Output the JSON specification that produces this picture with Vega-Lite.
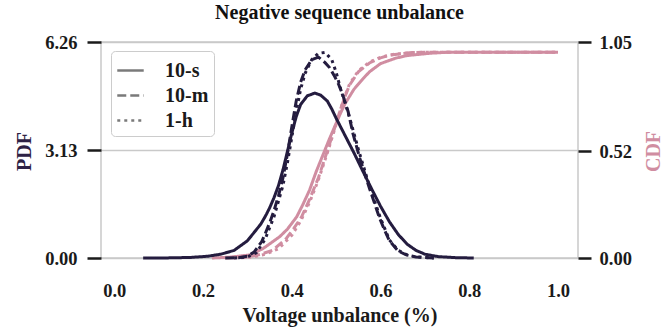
{
  "$schema": "https://vega.github.io/schema/vega-lite/v6.json",
  "width": 477,
  "height": 216,
  "autosize": {"type": "none"},
  "padding": {"left": 101, "top": 42, "right": 94, "bottom": 69},
  "config": {
    "font": "Liberation Serif",
    "view": {"stroke": "#c9c9c9", "strokeWidth": 1.5},
    "axis": {
      "labelFont": "Liberation Serif",
      "labelFontWeight": "bold",
      "labelFontSize": 18.5,
      "labelColor": "#1a1a1a",
      "titleFont": "Liberation Serif",
      "titleFontWeight": "bold",
      "titleFontSize": 20
    },
    "legend": {
      "orient": "none",
      "legendX": 10,
      "legendY": 9,
      "fillColor": "white",
      "strokeColor": "#cccccc",
      "cornerRadius": 4,
      "padding": 5,
      "symbolType": "stroke",
      "symbolStrokeWidth": 2.5,
      "symbolStrokeColor": "#7a7a7a",
      "symbolSize": 700,
      "labelFont": "Liberation Serif",
      "labelFontSize": 20,
      "labelFontWeight": "bold",
      "labelColor": "#1a1a1a",
      "labelOffset": 20,
      "rowPadding": 0
    }
  },
  "title": {
    "text": "Negative sequence unbalance",
    "font": "Liberation Serif",
    "fontSize": 20,
    "fontWeight": "bold",
    "color": "#111111",
    "anchor": "middle",
    "offset": 10
  },
  "datasets": {
    "pdf": [
      {"s": "10-s", "x": 0.065, "pdf": 0},
      {"s": "10-s", "x": 0.12, "pdf": 0.003},
      {"s": "10-s", "x": 0.17, "pdf": 0.015},
      {"s": "10-s", "x": 0.21, "pdf": 0.05},
      {"s": "10-s", "x": 0.24, "pdf": 0.11},
      {"s": "10-s", "x": 0.27, "pdf": 0.22},
      {"s": "10-s", "x": 0.30, "pdf": 0.5},
      {"s": "10-s", "x": 0.33, "pdf": 0.98},
      {"s": "10-s", "x": 0.34, "pdf": 1.2},
      {"s": "10-s", "x": 0.35, "pdf": 1.45},
      {"s": "10-s", "x": 0.36, "pdf": 1.75},
      {"s": "10-s", "x": 0.37, "pdf": 2.1},
      {"s": "10-s", "x": 0.38, "pdf": 2.55},
      {"s": "10-s", "x": 0.39, "pdf": 3.08},
      {"s": "10-s", "x": 0.40, "pdf": 3.62},
      {"s": "10-s", "x": 0.41, "pdf": 4.1},
      {"s": "10-s", "x": 0.42, "pdf": 4.45},
      {"s": "10-s", "x": 0.435, "pdf": 4.7},
      {"s": "10-s", "x": 0.452, "pdf": 4.78},
      {"s": "10-s", "x": 0.465, "pdf": 4.72},
      {"s": "10-s", "x": 0.48, "pdf": 4.55},
      {"s": "10-s", "x": 0.49, "pdf": 4.32},
      {"s": "10-s", "x": 0.50, "pdf": 4.05},
      {"s": "10-s", "x": 0.52, "pdf": 3.55},
      {"s": "10-s", "x": 0.54, "pdf": 3.05},
      {"s": "10-s", "x": 0.56, "pdf": 2.52},
      {"s": "10-s", "x": 0.58, "pdf": 2.0},
      {"s": "10-s", "x": 0.60, "pdf": 1.5},
      {"s": "10-s", "x": 0.62, "pdf": 1.05},
      {"s": "10-s", "x": 0.64, "pdf": 0.68},
      {"s": "10-s", "x": 0.66, "pdf": 0.4},
      {"s": "10-s", "x": 0.68, "pdf": 0.22},
      {"s": "10-s", "x": 0.70, "pdf": 0.11},
      {"s": "10-s", "x": 0.73, "pdf": 0.04},
      {"s": "10-s", "x": 0.77, "pdf": 0.01},
      {"s": "10-s", "x": 0.81, "pdf": 0},
      {"s": "10-m", "x": 0.25, "pdf": 0},
      {"s": "10-m", "x": 0.28, "pdf": 0.01},
      {"s": "10-m", "x": 0.30, "pdf": 0.05},
      {"s": "10-m", "x": 0.315, "pdf": 0.17},
      {"s": "10-m", "x": 0.332, "pdf": 0.47},
      {"s": "10-m", "x": 0.34, "pdf": 0.7},
      {"s": "10-m", "x": 0.351, "pdf": 1.05},
      {"s": "10-m", "x": 0.36, "pdf": 1.38},
      {"s": "10-m", "x": 0.37, "pdf": 1.8},
      {"s": "10-m", "x": 0.38, "pdf": 2.32},
      {"s": "10-m", "x": 0.39, "pdf": 3.0},
      {"s": "10-m", "x": 0.40, "pdf": 3.8},
      {"s": "10-m", "x": 0.41, "pdf": 4.55},
      {"s": "10-m", "x": 0.42, "pdf": 5.1},
      {"s": "10-m", "x": 0.43, "pdf": 5.45},
      {"s": "10-m", "x": 0.445, "pdf": 5.75},
      {"s": "10-m", "x": 0.46, "pdf": 5.82},
      {"s": "10-m", "x": 0.475, "pdf": 5.66},
      {"s": "10-m", "x": 0.485, "pdf": 5.52},
      {"s": "10-m", "x": 0.495, "pdf": 5.3},
      {"s": "10-m", "x": 0.505, "pdf": 5.05},
      {"s": "10-m", "x": 0.515, "pdf": 4.72},
      {"s": "10-m", "x": 0.527, "pdf": 4.24},
      {"s": "10-m", "x": 0.538, "pdf": 3.6},
      {"s": "10-m", "x": 0.553, "pdf": 2.9},
      {"s": "10-m", "x": 0.575, "pdf": 2.02},
      {"s": "10-m", "x": 0.598, "pdf": 1.15},
      {"s": "10-m", "x": 0.61, "pdf": 0.78},
      {"s": "10-m", "x": 0.62, "pdf": 0.5},
      {"s": "10-m", "x": 0.64, "pdf": 0.2},
      {"s": "10-m", "x": 0.658, "pdf": 0.09},
      {"s": "10-m", "x": 0.68, "pdf": 0.03},
      {"s": "10-m", "x": 0.72, "pdf": 0},
      {"s": "1-h", "x": 0.27, "pdf": 0},
      {"s": "1-h", "x": 0.30, "pdf": 0.03},
      {"s": "1-h", "x": 0.32, "pdf": 0.15},
      {"s": "1-h", "x": 0.34, "pdf": 0.55},
      {"s": "1-h", "x": 0.36, "pdf": 1.2},
      {"s": "1-h", "x": 0.38, "pdf": 2.1},
      {"s": "1-h", "x": 0.39, "pdf": 2.75},
      {"s": "1-h", "x": 0.40, "pdf": 3.5},
      {"s": "1-h", "x": 0.41, "pdf": 4.25},
      {"s": "1-h", "x": 0.42, "pdf": 4.9},
      {"s": "1-h", "x": 0.43, "pdf": 5.35},
      {"s": "1-h", "x": 0.445, "pdf": 5.75},
      {"s": "1-h", "x": 0.46, "pdf": 5.93},
      {"s": "1-h", "x": 0.475, "pdf": 5.96},
      {"s": "1-h", "x": 0.49, "pdf": 5.75},
      {"s": "1-h", "x": 0.50, "pdf": 5.38},
      {"s": "1-h", "x": 0.51, "pdf": 4.9},
      {"s": "1-h", "x": 0.52, "pdf": 4.5},
      {"s": "1-h", "x": 0.53, "pdf": 4.08},
      {"s": "1-h", "x": 0.55, "pdf": 3.15},
      {"s": "1-h", "x": 0.575, "pdf": 2.08},
      {"s": "1-h", "x": 0.60, "pdf": 1.15},
      {"s": "1-h", "x": 0.62, "pdf": 0.52},
      {"s": "1-h", "x": 0.64, "pdf": 0.22},
      {"s": "1-h", "x": 0.66, "pdf": 0.09},
      {"s": "1-h", "x": 0.68, "pdf": 0.03},
      {"s": "1-h", "x": 0.72, "pdf": 0}
    ],
    "cdf": [
      {"s": "10-s", "x": 0.22, "cdf": 0},
      {"s": "10-s", "x": 0.26, "cdf": 0.004},
      {"s": "10-s", "x": 0.306, "cdf": 0.015},
      {"s": "10-s", "x": 0.336, "cdf": 0.047},
      {"s": "10-s", "x": 0.373, "cdf": 0.104},
      {"s": "10-s", "x": 0.39, "cdf": 0.14},
      {"s": "10-s", "x": 0.411, "cdf": 0.2},
      {"s": "10-s", "x": 0.425, "cdf": 0.26},
      {"s": "10-s", "x": 0.44, "cdf": 0.33},
      {"s": "10-s", "x": 0.455, "cdf": 0.42},
      {"s": "10-s", "x": 0.47, "cdf": 0.5},
      {"s": "10-s", "x": 0.485, "cdf": 0.58},
      {"s": "10-s", "x": 0.50, "cdf": 0.655},
      {"s": "10-s", "x": 0.51, "cdf": 0.705},
      {"s": "10-s", "x": 0.52, "cdf": 0.75},
      {"s": "10-s", "x": 0.54, "cdf": 0.82},
      {"s": "10-s", "x": 0.56, "cdf": 0.87},
      {"s": "10-s", "x": 0.575, "cdf": 0.905},
      {"s": "10-s", "x": 0.60, "cdf": 0.945},
      {"s": "10-s", "x": 0.635, "cdf": 0.972},
      {"s": "10-s", "x": 0.66, "cdf": 0.984},
      {"s": "10-s", "x": 0.71, "cdf": 0.995},
      {"s": "10-s", "x": 0.75, "cdf": 1.0},
      {"s": "10-s", "x": 1.0, "cdf": 1.0},
      {"s": "10-m", "x": 0.25, "cdf": 0},
      {"s": "10-m", "x": 0.30, "cdf": 0.004},
      {"s": "10-m", "x": 0.33, "cdf": 0.018},
      {"s": "10-m", "x": 0.358, "cdf": 0.039},
      {"s": "10-m", "x": 0.388, "cdf": 0.096},
      {"s": "10-m", "x": 0.405, "cdf": 0.145},
      {"s": "10-m", "x": 0.422, "cdf": 0.2},
      {"s": "10-m", "x": 0.44, "cdf": 0.285},
      {"s": "10-m", "x": 0.46, "cdf": 0.39},
      {"s": "10-m", "x": 0.48, "cdf": 0.52},
      {"s": "10-m", "x": 0.50, "cdf": 0.655},
      {"s": "10-m", "x": 0.51, "cdf": 0.725},
      {"s": "10-m", "x": 0.52, "cdf": 0.785},
      {"s": "10-m", "x": 0.53, "cdf": 0.84},
      {"s": "10-m", "x": 0.55, "cdf": 0.905},
      {"s": "10-m", "x": 0.575, "cdf": 0.948},
      {"s": "10-m", "x": 0.60, "cdf": 0.973},
      {"s": "10-m", "x": 0.62, "cdf": 0.986},
      {"s": "10-m", "x": 0.665, "cdf": 0.998},
      {"s": "10-m", "x": 0.70, "cdf": 1.0},
      {"s": "10-m", "x": 1.0, "cdf": 1.0},
      {"s": "1-h", "x": 0.27, "cdf": 0},
      {"s": "1-h", "x": 0.31, "cdf": 0.004},
      {"s": "1-h", "x": 0.34, "cdf": 0.018},
      {"s": "1-h", "x": 0.37, "cdf": 0.045},
      {"s": "1-h", "x": 0.40, "cdf": 0.11},
      {"s": "1-h", "x": 0.42, "cdf": 0.18},
      {"s": "1-h", "x": 0.44, "cdf": 0.27},
      {"s": "1-h", "x": 0.46, "cdf": 0.38},
      {"s": "1-h", "x": 0.48, "cdf": 0.51},
      {"s": "1-h", "x": 0.50, "cdf": 0.65},
      {"s": "1-h", "x": 0.51, "cdf": 0.725},
      {"s": "1-h", "x": 0.52, "cdf": 0.79},
      {"s": "1-h", "x": 0.53, "cdf": 0.845},
      {"s": "1-h", "x": 0.55, "cdf": 0.91},
      {"s": "1-h", "x": 0.575, "cdf": 0.952},
      {"s": "1-h", "x": 0.60, "cdf": 0.976},
      {"s": "1-h", "x": 0.63, "cdf": 0.99},
      {"s": "1-h", "x": 0.67, "cdf": 0.999},
      {"s": "1-h", "x": 0.70, "cdf": 1.0},
      {"s": "1-h", "x": 1.0, "cdf": 1.0}
    ]
  },
  "layer": [
    {
      "data": {"name": "cdf"},
      "mark": {"type": "line", "strokeWidth": 3, "color": "#d08da1", "strokeCap": "butt"},
      "encoding": {
        "x": {
          "field": "x",
          "type": "quantitative",
          "scale": {"domain": [-0.03, 1.045], "nice": false, "zero": false},
          "axis": {
            "values": [0, 0.2, 0.4, 0.6, 0.8, 1.0],
            "format": ".1f",
            "ticks": false,
            "domain": false,
            "grid": false,
            "labelPadding": 23,
            "title": "Voltage unbalance (%)",
            "titleColor": "#1a1a1a",
            "titlePadding": 6
          }
        },
        "y": {
          "field": "cdf",
          "type": "quantitative",
          "scale": {"domain": [0, 1.05], "nice": false},
          "axis": {
            "orient": "right",
            "values": [0, 0.52, 1.05],
            "format": ".2f",
            "domain": false,
            "grid": false,
            "tickSize": 13,
            "tickWidth": 2.5,
            "tickColor": "#1a1a1a",
            "labelPadding": 8,
            "title": "CDF",
            "titleColor": "#d08da1",
            "titleAngle": 270,
            "titleAlign": "center",
            "titleBaseline": "middle",
            "titleX": 75,
            "titleY": 109
          }
        },
        "strokeDash": {
          "field": "s",
          "type": "nominal",
          "scale": {"domain": ["10-s", "10-m", "1-h"], "range": [[1, 0], [9, 4], [3, 4]]},
          "legend": {"title": null}
        }
      }
    },
    {
      "data": {"name": "pdf"},
      "mark": {"type": "line", "strokeWidth": 3, "color": "#241c3f", "strokeCap": "butt"},
      "encoding": {
        "x": {"field": "x", "type": "quantitative"},
        "y": {
          "field": "pdf",
          "type": "quantitative",
          "scale": {"domain": [0, 6.26], "nice": false},
          "axis": {
            "orient": "left",
            "values": [0, 3.13, 6.26],
            "format": ".2f",
            "domain": false,
            "grid": true,
            "gridColor": "#c9c9c9",
            "gridWidth": 1.5,
            "tickSize": 14,
            "tickWidth": 2.5,
            "tickColor": "#1a1a1a",
            "labelPadding": 10,
            "title": "PDF",
            "titleColor": "#2e2245",
            "titleAngle": 270,
            "titleAlign": "center",
            "titleBaseline": "middle",
            "titleX": -77,
            "titleY": 109
          }
        },
        "strokeDash": {"field": "s", "type": "nominal"}
      }
    }
  ],
  "resolve": {"scale": {"y": "independent"}}
}
